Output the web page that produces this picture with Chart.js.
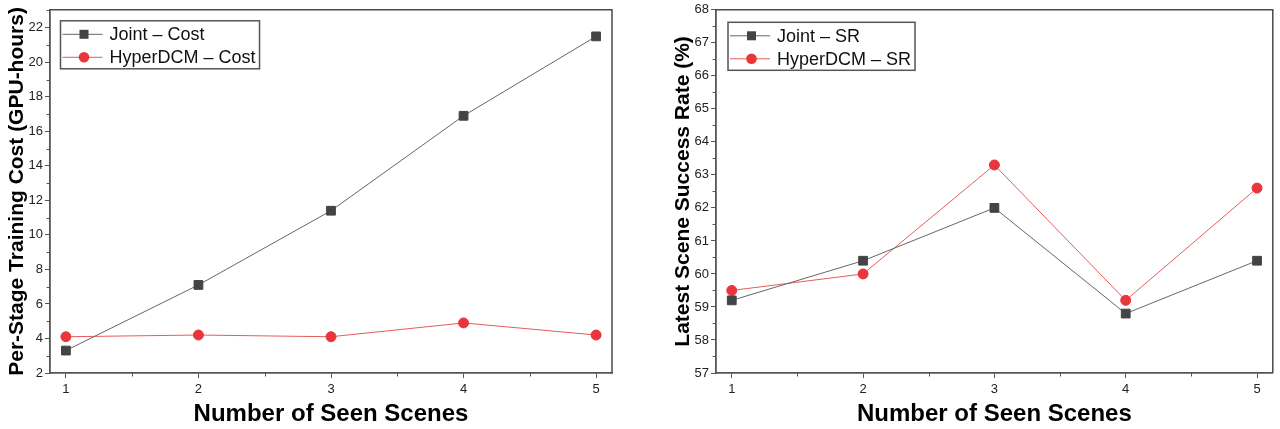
<!DOCTYPE html>
<html><head><meta charset="utf-8">
<script src="https://cdn.jsdelivr.net/npm/chart.js@4.4.1/dist/chart.umd.min.js"></script>
<style>
html,body{margin:0;padding:0;background:#fff;overflow:hidden}
#wrap{display:flex;width:1280px;height:429px}
canvas{display:block}
</style></head>
<body>
<div id="wrap"><canvas id="c1" width="640" height="429"></canvas><canvas id="c2" width="640" height="429"></canvas></div>
<script>
// ---- data ----
const scenes = [1, 2, 3, 4, 5];
const jointCost = [3.3, 7.1, 11.4, 16.9, 21.5];
const hyperCost = [4.1, 4.2, 4.1, 4.9, 4.2];
const jointSR = [59.2, 60.4, 62.0, 58.8, 60.4];
const hyperSR = [59.5, 60.0, 63.3, 59.2, 62.6];
const costTicks = [2, 4, 6, 8, 10, 12, 14, 16, 18, 20, 22];
const srTicks = [57, 58, 59, 60, 61, 62, 63, 64, 65, 66, 67, 68];
const xTitle = 'Number of Seen Scenes';
const costTitle = 'Per-Stage Training Cost (GPU-hours)';
const srTitle = 'Latest Scene Success Rate (%)';
const labelsCost = ['Joint \u2013 Cost', 'HyperDCM \u2013 Cost'];
const labelsSR = ['Joint \u2013 SR', 'HyperDCM \u2013 SR'];

const FONT = "'Liberation Sans', Arial, sans-serif";
const GRAY_LINE = '#666666';
const GRAY_MARK = '#444444';
const RED_LINE = '#e65c5c';
const RED_MARK = '#e8363c';

function midpoints(arr) {
  const out = [];
  for (let i = 0; i < arr.length - 1; i++) out.push((arr[i] + arr[i + 1]) / 2);
  return out;
}

function drawMarker(ctx, style, x, y, color) {
  ctx.fillStyle = color;
  if (style === 'rect') {
    ctx.fillRect(x - 4.5, y - 4.5, 9, 9);
  } else {
    ctx.beginPath(); ctx.arc(x, y, 5.3, 0, Math.PI * 2); ctx.fill();
  }
}

const framePlugin = {
  id: 'frameMinorLegend',
  afterDraw(chart, args, opts) {
    const { ctx, chartArea: { left, right, top, bottom }, scales: { x, y } } = chart;
    ctx.save();
    ctx.strokeStyle = '#4a4a4a'; ctx.lineWidth = 1.5;
    ctx.beginPath(); ctx.moveTo(left, top); ctx.lineTo(right, top); ctx.lineTo(right, bottom); ctx.stroke();
    ctx.strokeStyle = '#555'; ctx.lineWidth = 1;
    const xs = x.ticks.map(t => t.value);
    midpoints(xs).forEach(v => { const p = Math.round(x.getPixelForValue(v)) + 0.5; ctx.beginPath(); ctx.moveTo(p, bottom); ctx.lineTo(p, bottom + 3.5); ctx.stroke(); });
    const ys = y.ticks.map(t => t.value);
    const yMinor = midpoints(ys);
    const step = ys[1] - ys[0];
    yMinor.push(ys[ys.length - 1] + step / 2);
    yMinor.forEach(v => { if (v >= y.max) return; const p = Math.round(y.getPixelForValue(v)) + 0.5; ctx.beginPath(); ctx.moveTo(left, p); ctx.lineTo(left - 3.5, p); ctx.stroke(); });
    // legend
    ctx.font = '18px ' + FONT;
    const dss = chart.data.datasets;
    let tw = 0;
    dss.forEach(d => { tw = Math.max(tw, ctx.measureText(d.label).width); });
    const bx = left + opts.dx, by = top + opts.dy;
    const bw = 49 + tw + 4, bh = 48;
    ctx.strokeStyle = '#555'; ctx.lineWidth = 1.5;
    ctx.strokeRect(bx, by, bw, bh);
    dss.forEach((d, i) => {
      const ry = by + 13.5 + i * 23;
      ctx.strokeStyle = d.borderColor; ctx.lineWidth = 1;
      ctx.beginPath(); ctx.moveTo(bx + 2, ry); ctx.lineTo(bx + 42, ry); ctx.stroke();
      drawMarker(ctx, d.pointStyle, bx + 23.5, ry, d.pointBackgroundColor);
      ctx.fillStyle = '#111'; ctx.textBaseline = 'middle'; ctx.textAlign = 'left';
      ctx.fillText(d.label, bx + 49, ry + 1);
    });
    ctx.restore();
  }
};

function makeChart(id, yTicks, yMin, yMax, yTitle, labels, jd, hd, yWidth, yTitlePad, padRight, dx, dy) {
  return new Chart(document.getElementById(id), {
    type: 'line',
    data: {
      datasets: [
        { label: labels[0], data: scenes.map((s, i) => ({ x: s, y: jd[i] })),
          borderColor: GRAY_LINE, borderWidth: 1, pointStyle: 'rect', pointRadius: 6.2, pointHoverRadius: 6.2,
          pointBackgroundColor: GRAY_MARK, pointBorderColor: GRAY_MARK, pointBorderWidth: 1, tension: 0 },
        { label: labels[1], data: scenes.map((s, i) => ({ x: s, y: hd[i] })),
          borderColor: RED_LINE, borderWidth: 1, pointStyle: 'circle', pointRadius: 5, pointHoverRadius: 5,
          pointBackgroundColor: RED_MARK, pointBorderColor: RED_MARK, pointBorderWidth: 1, tension: 0 }
      ]
    },
    options: {
      responsive: false, animation: false, devicePixelRatio: 1,
      layout: { padding: { top: 9.5, right: padRight, left: 0, bottom: 0 } },
      plugins: { legend: { display: false }, tooltip: { enabled: false },
        frameMinorLegend: { dx: dx, dy: dy } },
      scales: {
        x: {
          type: 'linear', min: 0.88, max: 5.12,
          afterBuildTicks: s => { s.ticks = scenes.map(v => ({ value: v })); },
          afterFit: s => { s.height = 56; },
          ticks: { font: { family: FONT, size: 13 }, color: '#222', padding: 4, callback: v => String(v) },
          grid: { drawOnChartArea: false, drawTicks: true, tickLength: 5, tickColor: '#555', tickWidth: 1 },
          border: { display: true, color: '#555', width: 1.8 },
          title: { display: true, text: xTitle, color: '#000', font: { family: FONT, size: 24, weight: 'bold' }, padding: { top: 0, bottom: 0 } }
        },
        y: {
          type: 'linear', min: yMin, max: yMax,
          afterBuildTicks: s => { s.ticks = yTicks.map(v => ({ value: v })); },
          afterFit: s => { s.width = yWidth; },
          ticks: { font: { family: FONT, size: 13 }, color: '#222', padding: 2, callback: v => String(v) },
          grid: { drawOnChartArea: false, drawTicks: true, tickLength: 5, tickColor: '#555', tickWidth: 1 },
          border: { display: true, color: '#555', width: 1.8 },
          title: { display: true, text: yTitle, color: '#000', font: { family: FONT, size: 21, weight: 'bold' }, padding: { top: yTitlePad, bottom: 0 } }
        }
      }
    },
    plugins: [framePlugin]
  });
}

makeChart('c1', costTicks, 2, 23.04, costTitle, labelsCost, jointCost, hyperCost, 50, 5, 28, 10.5, 11);
makeChart('c2', srTicks, 57, 68, srTitle, labelsSR, jointSR, hyperSR, 76, 31, 1, 12, 12.5);
</script>
</body></html>
